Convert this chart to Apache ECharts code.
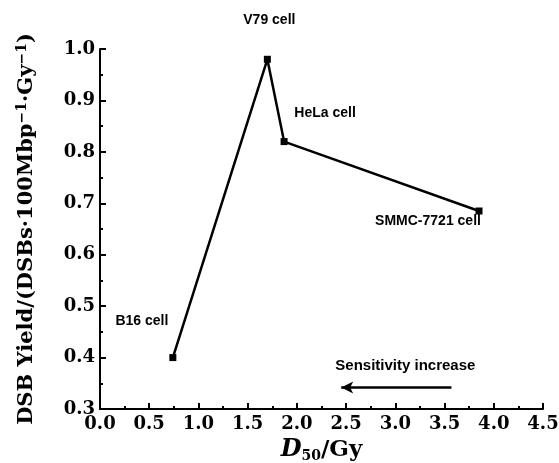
<!DOCTYPE html>
<html>
<head>
<meta charset="utf-8">
<script src="https://cdn.jsdelivr.net/npm/echarts@6/dist/echarts.min.js"></script>
<style>
  html, body { margin: 0; padding: 0; background: #fff; }
  #chart { width: 559px; height: 463px; }
</style>
</head>
<body>
<div id="chart"></div>
<script>
// cell lines, D50 (Gy) and DSB yield
var cellNames = ["B16 cell", "V79 cell", "HeLa cell", "SMMC-7721 cell"];
var d50Values = [0.74, 1.70, 1.87, 3.85];
var yieldValues = [0.40, 0.98, 0.82, 0.685];
// label offsets (px) from each point
var labelOffsets = [[-31, -36], [2, -39], [41, -28], [-51, 10]];
// arrow "Sensitivity increase"
var arrowFrom = [3.57, 0.342];
var arrowTo = [2.45, 0.342];

var chart = echarts.init(document.getElementById("chart"));

var pts = d50Values.map(function (x, i) {
  return {
    value: [x, yieldValues[i]],
    name: cellNames[i],
    label: { offset: labelOffsets[i] }
  };
});

var serif = "DejaVu Serif";
var option = {
  animation: false,
  grid: { left: 100, right: 16, top: 49, bottom: 54, outerBoundsMode: "none" },
  xAxis: {
    type: "value",
    min: 0, max: 4.5, interval: 0.5,
    name: "{d|D}{s|50}{g|/Gy}",
    nameLocation: "middle",
    nameGap: 27,
    nameTextStyle: {
      rich: {
        d: { fontFamily: serif, fontStyle: "italic", fontWeight: "bold", fontSize: 24, color: "#000" },
        s: { fontFamily: serif, fontWeight: "bold", fontSize: 14, color: "#000", verticalAlign: "bottom", padding: [12, 0, 0, 0] },
        g: { fontFamily: serif, fontWeight: "bold", fontSize: 23, color: "#000" }
      }
    },
    axisLine: { lineStyle: { color: "#000", width: 2 } },
    axisTick: { inside: true, length: 6, lineStyle: { color: "#000", width: 2 } },
    minorTick: { show: true, splitNumber: 2, length: 3, lineStyle: { color: "#000", width: 2 } },
    splitLine: { show: false },
    axisLabel: {
      fontFamily: serif, fontWeight: "bold", fontSize: 18, color: "#000", margin: 6,
      formatter: function (v) { return v.toFixed(1); }
    }
  },
  yAxis: {
    type: "value",
    min: 0.3, max: 1.0, interval: 0.1,
    name: "{t|DSB Yield/(DSBs·100Mbp}{p|−1}{t|·Gy}{p|−1}{t|)}",
    nameLocation: "middle",
    nameRotate: 90,
    nameGap: 61,
    nameTextStyle: {
      rich: {
        t: { fontFamily: serif, fontWeight: "bold", fontSize: 21, color: "#000" },
        p: { fontFamily: serif, fontWeight: "bold", fontSize: 14, color: "#000", verticalAlign: "top", padding: [0, 0, 10, 0] }
      }
    },
    axisLine: { show: true, lineStyle: { color: "#000", width: 2 } },
    axisTick: { show: true, inside: true, length: 6, lineStyle: { color: "#000", width: 2 } },
    minorTick: { show: true, splitNumber: 2, length: 3, lineStyle: { color: "#000", width: 2 } },
    splitLine: { show: false },
    axisLabel: {
      fontFamily: serif, fontWeight: "bold", fontSize: 18, color: "#000", margin: 5,
      formatter: function (v) { return v.toFixed(1); }
    }
  },
  series: [
    {
      type: "line",
      data: pts,
      symbol: "rect",
      symbolSize: 7,
      lineStyle: { color: "#000", width: 2.5 },
      itemStyle: { color: "#000" },
      label: {
        show: true,
        position: "inside",
        formatter: "{b}",
        fontFamily: "Liberation Sans",
        fontWeight: "bold",
        fontSize: 14,
        color: "#000"
      },
      markLine: {
        silent: true,
        symbol: ["none", "arrow"],
        symbolSize: [9, 12],
        lineStyle: { color: "#000", width: 2.5, type: "solid" },
        label: {
          show: true,
          position: "middle",
          formatter: "Sensitivity increase",
          fontFamily: "Liberation Sans",
          fontWeight: "bold",
          fontSize: 15,
          color: "#000",
          distance: 14,
          padding: [0, 0, 0, 18]
        },
        data: [[{ coord: arrowFrom }, { coord: arrowTo }]]
      }
    }
  ]
};
chart.setOption(option);
</script>
</body>
</html>
